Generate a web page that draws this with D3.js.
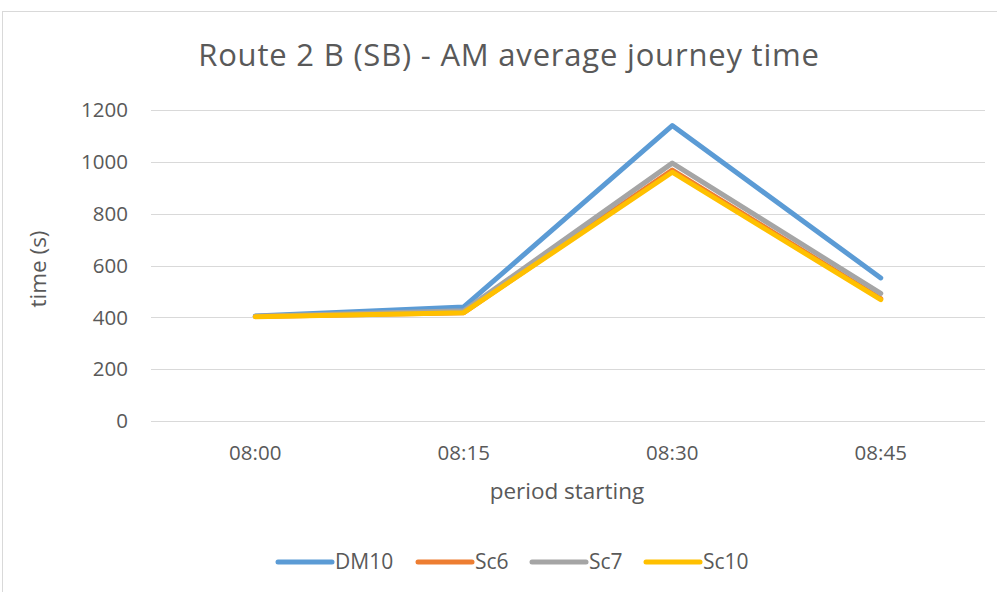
<!DOCTYPE html>
<html>
<head>
<meta charset="utf-8">
<script src="https://cdn.jsdelivr.net/npm/d3@7"></script>
<style>
  body { margin: 0; background: #fff; }
  text { font-family: "Open Sans", sans-serif; fill: #595959; }
</style>
</head>
<body>
<div id="canva"></div>
<script>
const periods = ["08:00", "08:15", "08:30", "08:45"];
const seriesNames = ["DM10", "Sc6", "Sc7", "Sc10"];
const dm10 = [405, 440, 1140, 552];
const sc6 = [403, 418, 968, 472];
const sc7 = [404, 425, 995, 492];
const sc10 = [402, 418, 960, 468];
const yTicks = [0, 200, 400, 600, 800, 1000, 1200];
const colors = ["#5B9BD5", "#ED7D31", "#A5A5A5", "#FFC000"];

const series = [dm10, sc6, sc7, sc10].map((vals, i) => ({name: seriesNames[i], values: vals, color: colors[i]}));

const width = 997, height = 592;
const margin = { top: 110, right: 12, bottom: 171, left: 151 };

const svg = d3.select("#canva").append("svg")
    .attr("width", width)
    .attr("height", height);

// chart border
svg.append("rect")
    .attr("x", 2.5).attr("y", 11.5)
    .attr("width", 1000).attr("height", 600)
    .attr("fill", "none")
    .attr("stroke", "#d9d9d9");

const x = d3.scaleBand()
    .domain(periods)
    .range([margin.left, width - margin.right]);

const y = d3.scaleLinear()
    .domain([0, 1200])
    .range([height - margin.bottom, margin.top]);

// gridlines
svg.append("g")
    .selectAll("line")
    .data(yTicks)
    .join("line")
        .attr("x1", margin.left)
        .attr("x2", width - margin.right)
        .attr("y1", d => Math.round(y(d)) + 0.5)
        .attr("y2", d => Math.round(y(d)) + 0.5)
        .attr("stroke", "#d9d9d9")
        .attr("stroke-width", 1);

// y tick labels
svg.append("g")
    .selectAll("text")
    .data(yTicks)
    .join("text")
        .attr("x", 128)
        .attr("y", d => y(d))
        .attr("dy", "0.35em")
        .attr("text-anchor", "end")
        .style("font-size", "20.5px")
        .text(d => d);

// x tick labels
svg.append("g")
    .selectAll("text")
    .data(periods)
    .join("text")
        .attr("x", d => x(d) + x.bandwidth() / 2)
        .attr("y", 460)
        .attr("text-anchor", "middle")
        .style("font-size", "20.5px")
        .text(d => d);

const line = d3.line()
    .x((d, i) => x(periods[i]) + x.bandwidth() / 2)
    .y(d => y(d));

svg.append("g")
    .selectAll("path")
    .data(series)
    .join("path")
        .attr("d", d => line(d.values))
        .attr("fill", "none")
        .attr("stroke", d => d.color)
        .attr("stroke-width", 5)
        .attr("stroke-linecap", "round")
        .attr("stroke-linejoin", "round");

// title
svg.append("text")
    .attr("x", 509)
    .attr("y", 66)
    .attr("text-anchor", "middle")
    .style("font-size", "31px")
    .style("letter-spacing", "0.8px")
    .text("Route 2 B (SB) - AM average journey time");

// axis titles
svg.append("text")
    .attr("x", 567)
    .attr("y", 499)
    .attr("text-anchor", "middle")
    .style("font-size", "22.5px")
    .text("period starting");

svg.append("text")
    .attr("transform", "translate(38, 269) rotate(-90)")
    .attr("text-anchor", "middle")
    .attr("dy", "0.35em")
    .style("font-size", "22.5px")
    .text("time (s)");

// legend
const legendX = [278, 418, 532, 646];
const legend = svg.append("g")
    .selectAll("g")
    .data(series)
    .join("g")
        .attr("transform", (d, i) => `translate(${legendX[i]}, 562)`);

legend.append("line")
    .attr("x1", 0).attr("x2", 54)
    .attr("stroke", d => d.color)
    .attr("stroke-width", 5)
    .attr("stroke-linecap", "round");

legend.append("text")
    .attr("x", 57)
    .attr("dy", "0.35em")
    .style("font-size", "21px")
    .text(d => d.name);
</script>
</body>
</html>
